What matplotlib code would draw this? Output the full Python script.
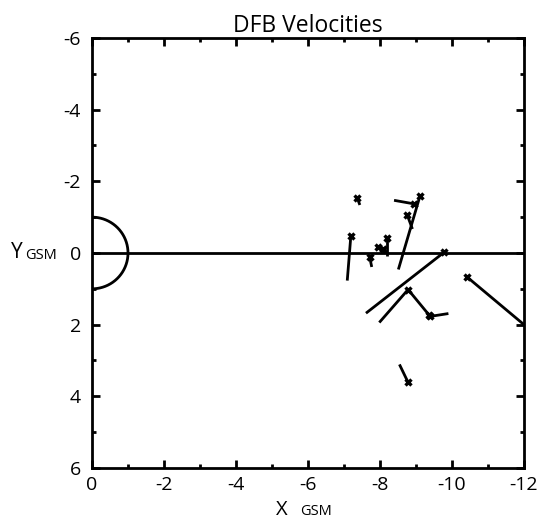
import numpy as np
import matplotlib
matplotlib.use("Agg")
import matplotlib.pyplot as plt
from matplotlib.ticker import MultipleLocator

plt.rcParams['font.family'] = ['Open Sans', 'DejaVu Sans']
plt.rcParams['axes.unicode_minus'] = False

# DFB start positions (marker) and vector tips, in GSM (Re)
x_start = [-7.37, -9.11, -8.95, -8.76, -7.19, -7.71, -7.95, -8.09, -8.19,
           -9.78, -8.78, -9.37, -9.39, -10.43, -8.77]
y_start = [-1.53, -1.59, -1.37, -1.05, -0.48, 0.10, -0.17, -0.12, -0.42,
           -0.02, 1.02, 1.74, 1.77, 0.68, 3.59]
x_end = [-7.44, -8.51, -8.39, -8.90, -7.09, -7.77, -7.97, -8.12, -8.19,
         -7.61, -7.98, -8.78, -9.90, -12.00, -8.54]
y_end = [-1.34, 0.46, -1.47, -0.67, 0.77, 0.39, -0.10, 0.02, 0.07,
         1.68, 1.94, 1.02, 1.69, 2.00, 3.11]

x_ticks = [0, -2, -4, -6, -8, -10, -12]
y_ticks = [-6, -4, -2, 0, 2, 4, 6]

fig = plt.figure(figsize=(5.39, 5.30), dpi=100)
ax = fig.add_axes([0.1707, 0.1170, 0.8015, 0.8113])

# Earth (nightside half)
t = np.linspace(-np.pi / 2, np.pi / 2, 200)
ax.plot(-np.cos(t), np.sin(t), color="black", lw=2)
ax.plot([0, -12], [0, 0], color="black", lw=2)

for xs, ys, xe, ye in zip(x_start, y_start, x_end, y_end):
    ax.plot([xs, xe], [ys, ye], color="black", lw=2, solid_capstyle="butt")
ax.plot(x_start, y_start, linestyle="none", marker="x", color="black",
        markersize=5, markeredgewidth=2.4)

ax.set_xlim(0, -12)
ax.set_ylim(6, -6)
ax.set_xticks(x_ticks)
ax.set_yticks(y_ticks)
ax.xaxis.set_minor_locator(MultipleLocator(1))
ax.yaxis.set_minor_locator(MultipleLocator(1))
ax.tick_params(which="both", direction="in", top=True, right=True,
               width=2, labelsize=14)
ax.tick_params(which="major", length=6)
ax.tick_params(which="minor", length=3)
ax.tick_params(axis="x", pad=6)
ax.tick_params(axis="y", pad=8)
for s in ax.spines.values():
    s.set_linewidth(2)

ax.set_title("DFB Velocities", fontsize=16.5, pad=3)

fig.text(0.534, 0.028, "X", fontsize=14.5, ha="right", va="baseline")
fig.text(0.557, 0.028, "GSM", fontsize=10.5, ha="left", va="baseline")
fig.text(0.043, 0.513, "Y", fontsize=15, ha="right", va="baseline")
fig.text(0.046, 0.511, "GSM", fontsize=10.5, ha="left", va="baseline")

fig.savefig("out.png", dpi=100)
